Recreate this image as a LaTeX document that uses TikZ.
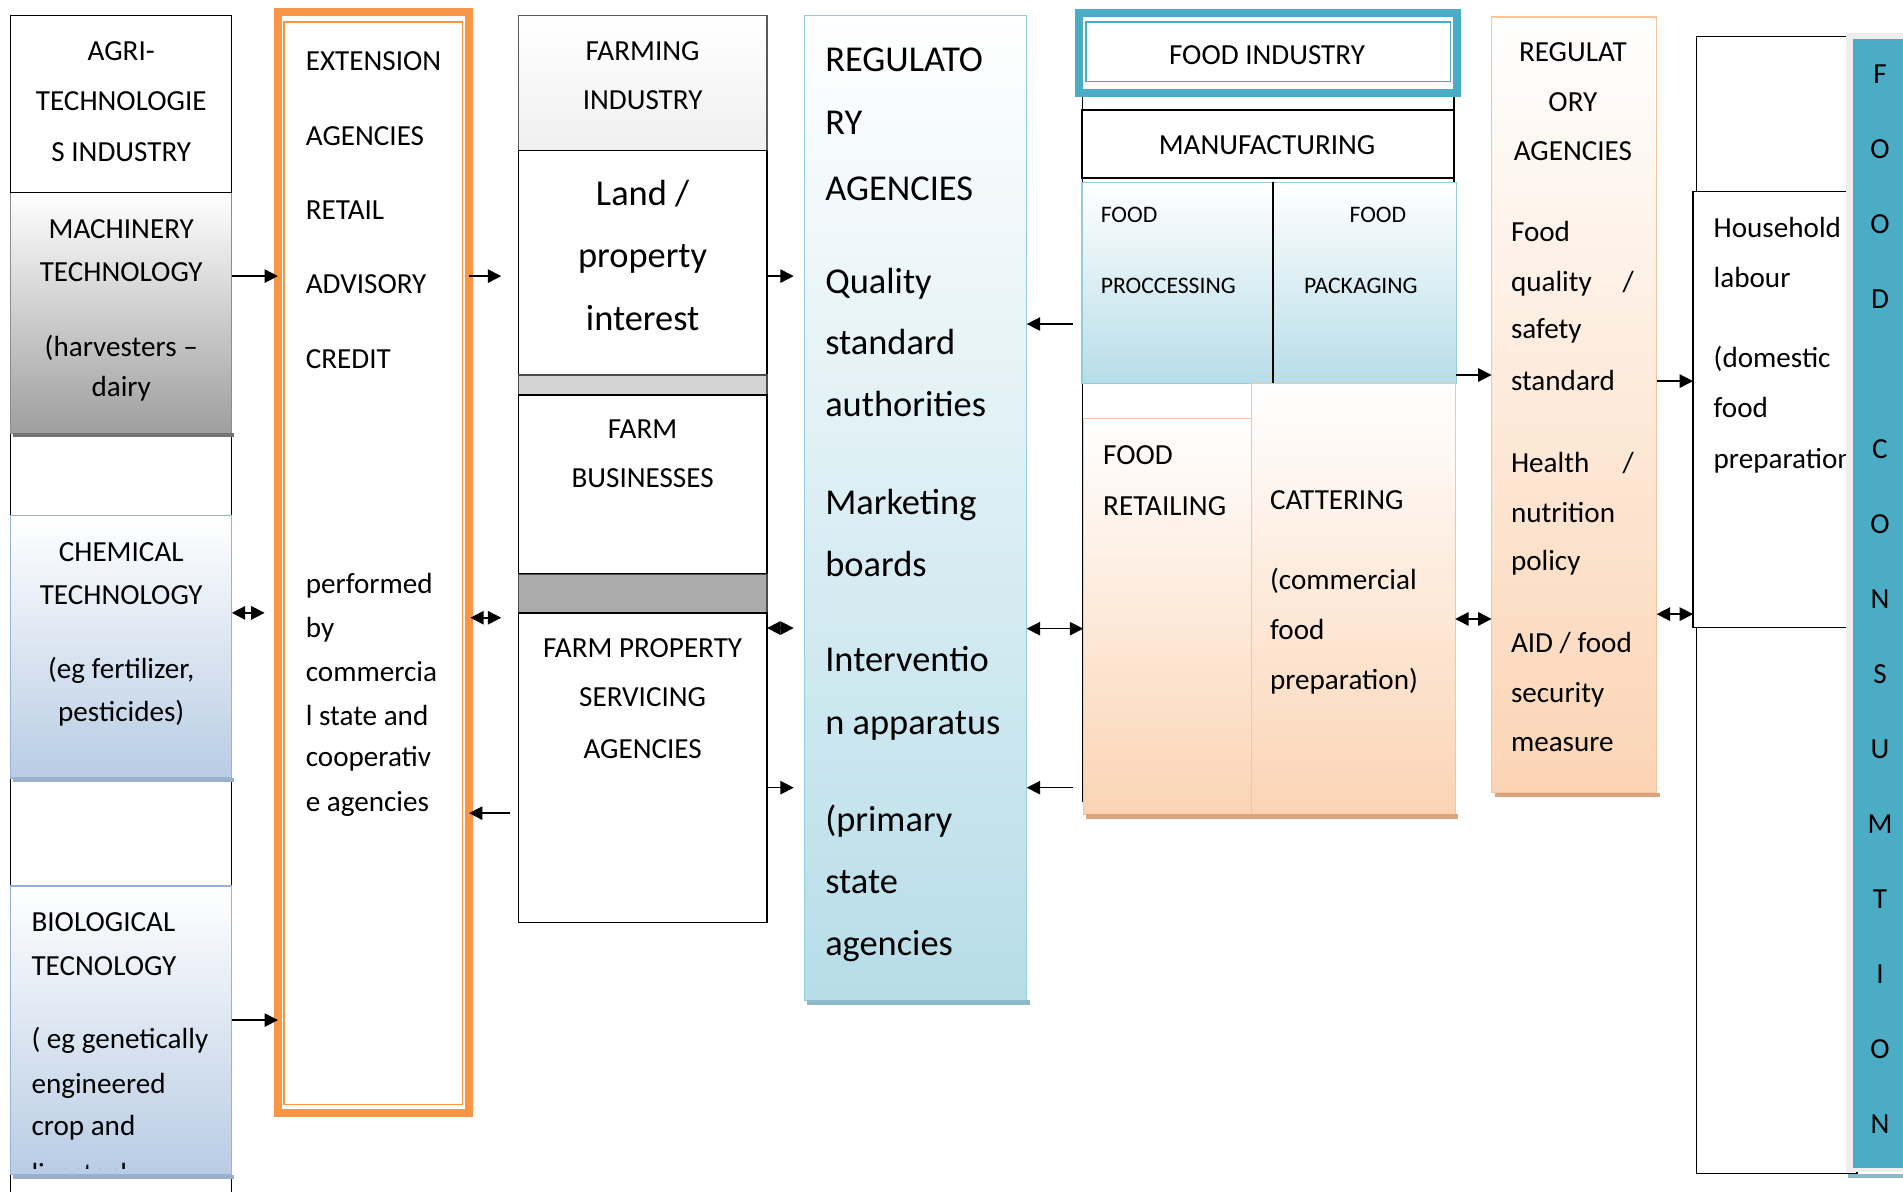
\documentclass[tikz,border=0pt]{standalone}
\usepackage{fontspec}
\setmainfont{Carlito}
\usetikzlibrary{arrows.meta,calc}
\definecolor{orng}{HTML}{F79646}
\definecolor{tealc}{HTML}{4BACC6}
\definecolor{peach}{HTML}{FBD4B4}
\definecolor{peachln}{HTML}{F9C49A}
\definecolor{peachsh}{HTML}{D9A47E}
\definecolor{lblue}{HTML}{B7DDE8}
\definecolor{lblueln}{HTML}{92CDDC}
\definecolor{lbluesh}{HTML}{8DB9C8}
\definecolor{sblue}{HTML}{B8CCE4}
\definecolor{sblueln}{HTML}{95B3D7}
\definecolor{sbluesh}{HTML}{9AAFC9}
\definecolor{gryband}{HTML}{D4D4D4}
\definecolor{grydark}{HTML}{ABABAB}
\begin{document}
\begin{tikzpicture}[x=1pt,y=-1pt,
  every node/.style={inner sep=0pt,outer sep=0pt},
  fr/.style={font=\fontsize{24}{29}\selectfont},
  fb/.style={font=\fontsize{30}{36}\selectfont},
  fs/.style={font=\fontsize{19.5}{24}\selectfont},
  lt/.style={fr,anchor=base west},
  ct/.style={fr,anchor=base},
  bl/.style={fb,anchor=base west},
  bc/.style={fb,anchor=base},
  sl/.style={fs,anchor=base west},
  letter/.style={fr,anchor=center,text height=15.2pt,text depth=0pt},
  box/.style={anchor=north west,line width=1.1pt,draw=black,fill=white},
  cbox/.style={anchor=north west,line width=0.9pt},
  arr/.style={line width=1.3pt,-{Triangle[length=11pt,width=11pt]}},
  darr/.style={line width=1.3pt,{Triangle[length=11pt,width=11pt]}-{Triangle[length=11pt,width=11pt]}},
]
\useasboundingbox (0,0) rectangle (1568,982);
\fill[white] (0,0) rectangle (1568,982);

% ---------- column 1: agri-technologies ----------
\node[box,minimum width=182.2pt,minimum height=1000pt] (agribg) at (8.8,13) {};
\node[cbox,minimum width=182.2pt,minimum height=198.5pt,top color=white,bottom color=black!38,draw=black!45] (mach) at (8.8,158.5) {};
\fill[black!55] ($(mach.south west)+(2,0)$) rectangle ($(mach.south east)+(2,3)$);
\node[box,minimum width=182.2pt,minimum height=145.5pt] (agri) at (8.8,13) {};
\node[cbox,minimum width=182.2pt,minimum height=216.5pt,top color=white,bottom color=sblue,draw=sblueln] (chem) at (8.8,424.5) {};
\fill[sbluesh] ($(chem.south west)+(2,0)$) rectangle ($(chem.south east)+(2,3)$);
\node[cbox,minimum width=182.2pt,minimum height=238pt,top color=white,bottom color=sblue,draw=sblueln] (bio) at (8.8,730) {};

\node[ct] (a1) at (99.9,50) {AGRI-};
\node[ct] (a2) at (99.9,91) {TECHNOLOGIE};
\node[ct] (a3) at (99.9,133) {S INDUSTRY};
\node[ct] (m1) at (99.9,196.5) {MACHINERY};
\node[ct] (m2) at (99.9,232) {TECHNOLOGY};
\node[ct] (m3) at (99.9,293.4) {(harvesters –};
\node[ct] (m4) at (99.9,327) {dairy};
\node[ct] (c1) at (99.9,463) {CHEMICAL};
\node[ct] (c2) at (99.9,497.7) {TECHNOLOGY};
\node[ct] (c3) at (99.9,559) {(eg fertilizer,};
\node[ct] (c4) at (99.9,594.6) {pesticides)};
\node[lt] (b1) at (26,767.7) {BIOLOGICAL};
\node[lt] (b2) at (26,803.4) {TECNOLOGY};
\node[lt] (b3) at (26,863.6) {( eg genetically};
\node[lt] (b4) at (26,900.8) {engineered};
\node[lt] (b5) at (26,936) {crop and};
\begin{scope}
  \clip (bio.north west) rectangle ($(bio.south east)+(0,-5)$);
  \node[lt] (b6) at (26,975) {livestock};
\end{scope}
\fill[sbluesh] ($(bio.south west)+(2,0)$) rectangle ($(bio.south east)+(2,3.5)$);

% ---------- column 2: extension agencies ----------
\node[anchor=north west,draw=orng,line width=6.5pt,fill=white,minimum width=157.5pt,minimum height=907pt] (ext) at (229,10) {};
\node[anchor=north west,draw=orng,line width=1.3pt,minimum width=147pt,minimum height=892pt] (extin) at (234,18) {};
\node[lt] (e1) at (252,57.7) {EXTENSION};
\node[lt] (e2) at (252,119.5) {AGENCIES};
\node[lt] (e3) at (252,181) {RETAIL};
\node[lt] (e4) at (252,242) {ADVISORY};
\node[lt] (e5) at (252,303.5) {CREDIT};
\node[lt] (e6) at (252,489) {performed};
\node[lt] (e7) at (252,525) {by};
\node[lt] (e8) at (252,561.7) {commercia};
\node[lt] (e9) at (252,597.4) {l state and};
\node[lt] (e10) at (252,631.7) {cooperativ};
\node[lt] (e11) at (252,668.8) {e agencies};

% ---------- column 3: farming industry ----------
\node[cbox,minimum width=205pt,minimum height=111pt,top color=white,bottom color=black!6,draw=black!65] (farmt) at (427,13) {};
\node[box,minimum width=205pt,minimum height=185pt] (land) at (427,124) {};
\node[cbox,minimum width=205pt,minimum height=16.5pt,fill=gryband,draw=black!70] (g1) at (427,309) {};
\node[box,minimum width=205pt,minimum height=147.5pt] (farmb) at (427,325.5) {};
\node[cbox,minimum width=205pt,minimum height=32pt,fill=grydark,draw=black!70] (g2) at (427,473) {};
\node[box,minimum width=205pt,minimum height=255pt] (fpsa) at (427,505) {};
\node[ct] (f1) at (529.5,49.5) {FARMING};
\node[ct] (f2) at (529.5,90.6) {INDUSTRY};
\node[bc] (f3) at (529.5,169) {Land /};
\node[bc] (f4) at (529.5,220) {property};
\node[bc] (f5) at (529.5,272) {interest};
\node[ct] (f6) at (529.5,361) {FARM};
\node[ct] (f7) at (529.5,402) {BUSINESSES};
\node[ct] (f8) at (529.5,541.5) {FARM PROPERTY};
\node[ct] (f9) at (529.5,582.5) {SERVICING};
\node[ct] (f10) at (529.5,624.6) {AGENCIES};

% ---------- column 4: regulatory agencies (blue) ----------
\node[cbox,minimum width=183.5pt,minimum height=811pt,top color=white,bottom color=lblue,draw=lblueln] (regb) at (662.5,13) {};
\fill[lbluesh] ($(regb.south west)+(2.5,0)$) rectangle ($(regb.south east)+(2.5,4)$);
\node[bl] (r1) at (680,59) {REGULATO};
\node[bl] (r2) at (680,111) {RY};
\node[bl] (r3) at (680,165) {AGENCIES};
\node[bl] (r4) at (680,241.7) {Quality};
\node[bl] (r5) at (680,292.5) {standard};
\node[bl] (r6) at (680,343) {authorities};
\node[bl] (r7) at (680,424) {Marketing};
\node[bl] (r8) at (680,475) {boards};
\node[bl] (r9) at (680,553.5) {Interventio};
\node[bl] (r10) at (680,605.6) {n apparatus};
\node[bl] (r11) at (680,685) {(primary};
\node[bl] (r12) at (680,736) {state};
\node[bl] (r13) at (680,787) {agencies};

% ---------- column 5: food industry ----------
\node[box,minimum width=306pt,minimum height=590pt] (fibg) at (892,70) {};
\node[anchor=north west,draw=tealc,line width=6.5pt,fill=white,minimum width=311.5pt,minimum height=66pt] (fi) at (889,10.5) {};
\node[anchor=north west,draw=tealc,line width=1.3pt,minimum width=300pt,minimum height=49pt] (fiin) at (895,18) {};
\node[ct] (fi1) at (1044,53.5) {FOOD INDUSTRY};
\node[box,line width=1.6pt,minimum width=306.5pt,minimum height=55.5pt] (manu) at (891.5,91) {};
\node[ct] (mf1) at (1044,127) {MANUFACTURING};
\node[cbox,minimum width=157.5pt,minimum height=166pt,top color=white,bottom color=lblue,draw=lblueln] (proc) at (891.5,150) {};
\node[cbox,minimum width=151pt,minimum height=166pt,top color=white,bottom color=lblue,draw=lblueln] (pack) at (1049,150) {};
\draw[line width=1.1pt] (proc.north east) -- (proc.south east);
\node[sl] (p1) at (907,183.5) {FOOD};
\node[sl] (p2) at (907,241.5) {PROCCESSING};
\node[sl] (p3) at (1112,183.5) {FOOD};
\node[sl] (p4) at (1074.5,241.5) {PACKAGING};
\node[cbox,minimum width=139pt,minimum height=326pt,top color=white,bottom color=peach,draw=peachln] (retail) at (892.5,345) {};
\node[cbox,minimum width=167.5pt,minimum height=355pt,top color=white,bottom color=peach,draw=peachln] (cater) at (1031.5,316) {};
\fill[peachsh] ($(retail.south west)+(2.5,0)$) rectangle ($(cater.south east)+(2.5,4)$);
\node[lt] (rt1) at (909,383) {FOOD};
\node[lt] (rt2) at (909,424.5) {RETAILING};
\node[lt] (ca1) at (1046.5,420) {CATTERING};
\node[lt] (ca2) at (1046.5,486) {(commercial};
\node[lt] (ca3) at (1046.5,527) {food};
\node[lt] (ca4) at (1046.5,568.5) {preparation)};

% ---------- column 6: regulatory agencies (orange) ----------
\node[cbox,minimum width=136pt,minimum height=639pt,top color=white,bottom color=peach,draw=peachln] (rego) at (1229,14) {};
\fill[peachsh] ($(rego.south west)+(2.5,0)$) rectangle ($(rego.south east)+(2.5,3.5)$);
\node[ct] (o1) at (1296,50.5) {REGULAT};
\node[ct] (o2) at (1296,91.5) {ORY};
\node[ct] (o3) at (1296,132.5) {AGENCIES};
\node[lt] (o4) at (1245,198.7) {Food};
\node[lt] (o5) at (1245,239.8) {quality};
\node[lt] (o5s) at (1337,239.8) {/};
\node[lt] (o6) at (1245,279) {safety};
\node[lt] (o7) at (1245,321.6) {standard};
\node[lt] (o8) at (1245,389.5) {Health};
\node[lt] (o8s) at (1337,389.5) {/};
\node[lt] (o9) at (1245,430.4) {nutrition};
\node[lt] (o10) at (1245,469.9) {policy};
\node[lt] (o11) at (1245,538) {AID / food};
\node[lt] (o12) at (1245,578.5) {security};
\node[lt] (o13) at (1245,619) {measure};

% ---------- column 7: household ----------
\node[box,minimum width=132pt,minimum height=128pt] (hh1) at (1398,30) {};
\node[box,minimum width=135pt,minimum height=359pt] (hh2) at (1395,158) {};
\node[box,minimum width=132pt,minimum height=450pt] (hh3) at (1398,517) {};
\node[lt] (h1) at (1412,195.5) {Household};
\node[lt] (h2) at (1412,236.5) {labour};
\node[lt] (h3) at (1412,302.7) {(domestic};
\node[lt] (h4) at (1412,343.7) {food};
\node[lt] (h5) at (1412,386) {preparation};

% ---------- food consumption bar ----------
\node[anchor=north west,fill=black!7,minimum width=60pt,minimum height=939pt] (cfr) at (1521,27) {};
\node[anchor=north west,fill=tealc,minimum width=50pt,minimum height=930.5pt] (cbar) at (1527,32) {};
\fill[lbluesh] ($(cfr.south west)+(2,1)$) rectangle ($(cfr.south east)+(2,5)$);
\foreach \yy/\ch [count=\k] in {61.5/F,123.3/O,185.1/O,246.9/D,370.5/C,432.3/O,494.1/N,555.9/S,617.7/U,679.5/M,741.3/T,803.1/I,864.9/O,926.7/N}
  \node[letter] (cons\k) at (1549,\yy) {\ch};

% ---------- connectors ----------
\coordinate (y227) at (0,227.5);
\coordinate (y505) at (0,505);
\coordinate (y509) at (0,509);
\coordinate (y840) at (0,840.5);
\coordinate (y670) at (0,670);
\coordinate (y517) at (0,517.5);
\coordinate (y649) at (0,649);
\coordinate (y267) at (0,267);
\coordinate (y518) at (0,518);
\coordinate (y309) at (0,309);
\coordinate (y510) at (0,510);
\coordinate (y314) at (0,314);
\coordinate (y506) at (0,506);

\draw[arr] (mach.east |- y227) -- (ext.west |- y227);
\draw[darr,shorten >=11pt] (chem.east |- y505) -- (ext.west |- y505);
\draw[arr] (bio.east |- y840) -- (ext.west |- y840);
\draw[arr,shorten >=14pt] (ext.east |- y227) -- (land.west |- y227);
\draw[darr,shorten <=1pt,shorten >=14pt] (ext.east |- y509) -- (fpsa.west |- y509);
\draw[arr,shorten <=7pt] (fpsa.west |- y670) -- (ext.east |- y670);
\draw[arr,shorten >=8.5pt] (land.east |- y227) -- (regb.west |- y227);
\draw[darr,shorten >=8.5pt] (fpsa.east |- y517) -- (regb.west |- y517);
\draw[arr,shorten >=8.5pt] (fpsa.east |- y649) -- (regb.west |- y649);
\draw[arr,shorten <=7.5pt] (proc.west |- y267) -- (regb.east |- y267);
\draw[darr] (regb.east |- y518) -- (retail.west |- y518);
\draw[arr,shorten <=8.5pt] (retail.west |- y649) -- (regb.east |- y649);
\draw[arr] (pack.east |- y309) -- (rego.west |- y309);
\draw[darr] (cater.east |- y510) -- (rego.west |- y510);
\draw[arr] (rego.east |- y314) -- (hh2.west |- y314);
\draw[darr] (rego.east |- y506) -- (hh2.west |- y506);
\end{tikzpicture}
\end{document}
